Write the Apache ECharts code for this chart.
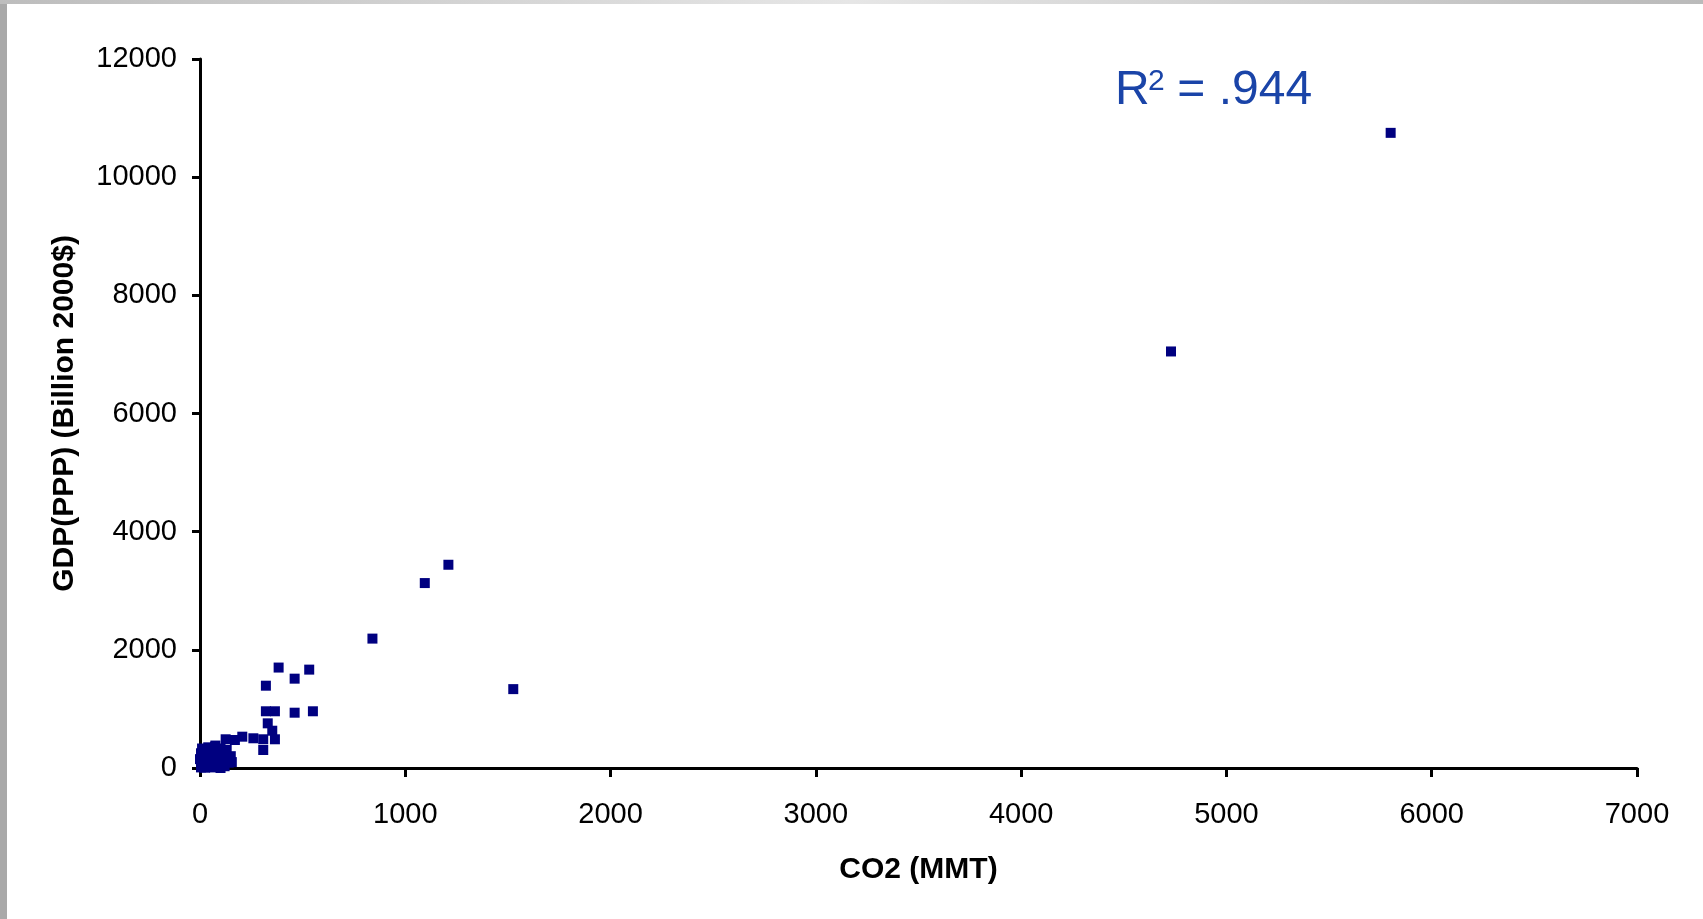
<!DOCTYPE html>
<html>
<head>
<meta charset="utf-8">
<style>
html,body{margin:0;padding:0;background:#fff;}
#chart{width:1703px;height:919px;}
</style>
<script src="https://cdn.jsdelivr.net/npm/echarts/dist/echarts.min.js"></script>
</head>
<body>
<div id="chart"></div>
<script>
// CO2 emissions (MMT) vs GDP (PPP, billion 2000$)
const co2 = [5800, 4730, 1210, 1095, 840, 383, 532, 461, 321, 1526,
  321, 365, 461, 550, 330, 352, 365, 308, 308, 260, 206, 170, 125, 73, 16, 130, 155,
  10, 40, 75, 100, 5, 30, 60, 90, 120, 150, 0, 20, 50, 80, 110, 140, 10, 35, 60, 90, 120, 5, 25, 45, 70, 100];
const gdp = [10750, 7050, 3440, 3130, 2190, 1700, 1665, 1512, 1393, 1335,
  960, 960, 936, 960, 756, 631, 486, 305, 486, 503, 530, 474, 486, 361, 305, 305, 100,
  330, 350, 380, 330, 250, 230, 260, 240, 220, 200, 150, 120, 160, 140, 130, 90, 60, 40, 80, 50, 30, 10, 5, 20, 10, 0];
const xTicks = [0, 1000, 2000, 3000, 4000, 5000, 6000, 7000];
const yTicks = [0, 2000, 4000, 6000, 8000, 10000, 12000];
const rSquared = '.944';

const points = co2.map((x, i) => [x, gdp[i]]);
const font = "'Liberation Sans', Arial, sans-serif";
const plain = v => String(v);

const chart = echarts.init(document.getElementById('chart'), null, {renderer: 'canvas'});
chart.setOption({
  backgroundColor: '#ffffff',
  animation: false,
  grid: {left: 200, right: 66, top: 59, bottom: 151},
  xAxis: {
    type: 'value',
    min: xTicks[0], max: xTicks[xTicks.length - 1], interval: 1000,
    name: 'CO2 (MMT)', nameLocation: 'middle', nameGap: 87,
    nameTextStyle: {fontSize: 30, fontWeight: 'bold', color: '#000', fontFamily: font},
    axisLine: {show: true, onZero: false, lineStyle: {color: '#000', width: 3}},
    axisTick: {show: true, length: 9, lineStyle: {color: '#000', width: 3}},
    axisLabel: {fontSize: 29, color: '#000', margin: 32, fontFamily: font, formatter: plain},
    splitLine: {show: false}
  },
  yAxis: {
    type: 'value',
    min: yTicks[0], max: yTicks[yTicks.length - 1], interval: 2000,
    name: 'GDP(PPP) (Billion 2000$)', nameLocation: 'middle', nameGap: 120,
    nameTextStyle: {fontSize: 30, fontWeight: 'bold', color: '#000', fontFamily: font},
    axisLine: {show: true, onZero: false, lineStyle: {color: '#000', width: 3}},
    axisTick: {show: true, length: 8, lineStyle: {color: '#000', width: 3}},
    axisLabel: {fontSize: 29, color: '#000', margin: 23, fontFamily: font, formatter: plain},
    splitLine: {show: false}
  },
  series: [{
    type: 'scatter',
    data: points,
    symbol: 'rect',
    symbolSize: 10,
    clip: false,
    itemStyle: {color: '#000080', opacity: 1}
  }],
  graphic: [
    {type: 'rect', left: 0, top: 0, shape: {width: 7, height: 919}, style: {fill: '#a9a9a9'}, silent: true},
    {type: 'rect', left: 0, top: 0, shape: {width: 1703, height: 4},
      style: {fill: new echarts.graphic.LinearGradient(0, 0, 1, 0, [
        {offset: 0, color: '#bdbdbd'}, {offset: 0.5, color: '#e6e6e6'}, {offset: 1, color: '#bababa'}])}, silent: true},
    {type: 'text', x: 1115, y: 91, style: {text: 'R', fontSize: 48, fill: '#1a44a8', fontFamily: font, verticalAlign: 'middle', align: 'left'}},
    {type: 'text', x: 1148, y: 82, style: {text: '2', fontSize: 30, fill: '#1a44a8', fontFamily: font, verticalAlign: 'middle', align: 'left'}},
    {type: 'text', x: 1164, y: 91, style: {text: ' = ' + rSquared, fontSize: 48, fill: '#1a44a8', fontFamily: font, verticalAlign: 'middle', align: 'left'}}
  ]
});
</script>
</body>
</html>
